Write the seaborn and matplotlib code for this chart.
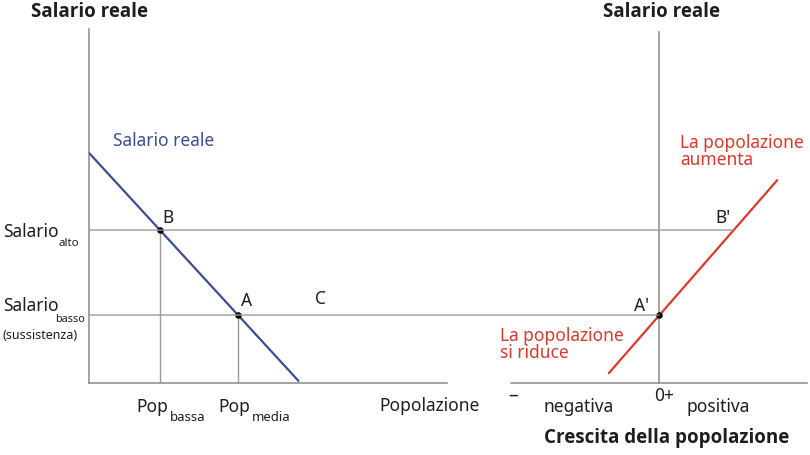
import matplotlib
matplotlib.use("Agg")
import matplotlib.pyplot as plt
import seaborn as sns
from matplotlib.patches import ConnectionPatch

# curve values (wage 0-10 on both panels)
pop_line = [0.0, 5.85]          # population, left panel
wage_line = [6.5, 0.06]         # real wage along the blue curve
growth_line = [-1.40, 3.30]     # population growth, right panel
wage_growth = [0.28, 5.73]      # real wage along the red curve

wage_high = 4.32                # Salario alto
wage_low = 1.92                 # Salario basso (sussistenza)
pop_low = 1.98                  # Pop bassa -> point B
pop_mid = 4.16                  # Pop media -> point A
growth_b = 2.07                 # growth at B'
growth_a = 0.0                  # growth at A'

BLUE = "#3a4d97"
RED = "#e0382b"
AXIS = "#8a8a8a"
GUIDE = "#9a9a9a"
INK = "#1e1e1e"

sns.set_style("white")
plt.rcParams["font.family"] = ["Noto Sans", "DejaVu Sans"]

fig = plt.figure(figsize=(8.1, 4.56), dpi=100)
ax1 = fig.add_axes([0.1099, 0.1579, 0.442, 0.7763])
ax2 = fig.add_axes([0.6309, 0.1579, 0.3654, 0.7763], sharey=ax1)

for ax in (ax1, ax2):
    for s in ("top", "right"):
        ax.spines[s].set_visible(False)
    for s in ("left", "bottom"):
        ax.spines[s].set_color(AXIS)
        ax.spines[s].set_linewidth(1.1)
    ax.set_xticks([])
    ax.set_yticks([])
    ax.patch.set_alpha(0)

ax1.set_xlim(0, 10)
ax1.set_ylim(0, 10)
ax2.set_xlim(-4.13, 4.13)
ax2.spines["left"].set_position(("data", 0))
ax2.spines["left"].set_bounds(0, 9.92)

# guide lines (drawn under the curves)
ax1.plot([pop_low, pop_low], [0, wage_high], color=GUIDE, lw=1.0, zorder=1)
ax1.plot([pop_mid, pop_mid], [0, wage_low], color=GUIDE, lw=1.0, zorder=1)
for w, g in ((wage_high, growth_b), (wage_low, growth_a)):
    con = ConnectionPatch(xyA=(0, w), coordsA=ax1.transData,
                          xyB=(g, w), coordsB=ax2.transData,
                          color=GUIDE, lw=1.0, zorder=1)
    fig.add_artist(con)

# curves
sns.lineplot(x=pop_line, y=wage_line, ax=ax1, color=BLUE, lw=1.6, zorder=3)
sns.lineplot(x=growth_line, y=wage_growth, ax=ax2, color=RED, lw=1.6, zorder=3)
sns.scatterplot(x=[pop_low, pop_mid], y=[wage_high, wage_low], ax=ax1,
                color="black", s=22, zorder=4, linewidth=0)
sns.scatterplot(x=[growth_a], y=[wage_low], ax=ax2,
                color="black", s=22, zorder=4, linewidth=0)

kw = dict(clip_on=False, color=INK)
fs = 12.5
bold = dict(family=["Open Sans", "DejaVu Sans"], fontweight="bold",
            fontstretch="normal", fontsize=13.5)

# left panel texts
ax1.text(0, 10.5, "Salario reale", ha="center", va="center", **bold, **kw)
ax1.text(0.67, 6.86, "Salario reale", ha="left", va="center", fontsize=fs,
         color=BLUE, clip_on=False)
ax1.text(-0.84, 4.29, "Salario", ha="right", va="center", fontsize=fs, **kw)
ax1.text(-0.85, 3.98, "alto", ha="left", va="center", fontsize=8.3, **kw)
ax1.text(-0.84, 2.20, "Salario", ha="right", va="center", fontsize=fs, **kw)
ax1.text(-0.11, 1.81, "basso", ha="right", va="center", fontsize=7.8, **kw)
ax1.text(-0.31, 1.38, "(sussistenza)", ha="right", va="center", fontsize=9, **kw)
ax1.text(2.21, 4.69, "B", ha="center", va="center", fontsize=fs, **kw)
ax1.text(4.41, 2.34, "A", ha="center", va="center", fontsize=fs, **kw)
ax1.text(6.45, 2.40, "C", ha="center", va="center", fontsize=fs, **kw)
ax1.text(2.21, -0.65, "Pop", ha="right", va="center", fontsize=fs, **kw)
ax1.text(2.26, -0.96, "bassa", ha="left", va="center", fontsize=9.5, **kw)
ax1.text(4.50, -0.65, "Pop", ha="right", va="center", fontsize=fs, **kw)
ax1.text(4.55, -0.96, "media", ha="left", va="center", fontsize=9.5, **kw)
ax1.text(10.92, -0.62, "Popolazione", ha="right", va="center", fontsize=fs, **kw)

# right panel texts
ax2.text(0.07, 10.5, "Salario reale", ha="center", va="center", **bold, **kw)
ax2.text(0.59, 6.57, "La popolazione\naumenta", ha="left", va="center",
         fontsize=fs, color=RED, linespacing=0.95, clip_on=False)
ax2.text(-4.44, 1.12, "La popolazione\nsi riduce", ha="left", va="center",
         fontsize=fs, color=RED, linespacing=0.95, clip_on=False)
ax2.text(1.79, 4.69, "B'", ha="center", va="center", fontsize=fs, **kw)
ax2.text(-0.50, 2.20, "A'", ha="center", va="center", fontsize=fs, **kw)
ax2.text(-4.08, -0.34, "–", ha="center", va="center", fontsize=14, **kw)
ax2.text(-2.23, -0.65, "negativa", ha="center", va="center", fontsize=fs, **kw)
ax2.text(0.14, -0.34, "0+", ha="center", va="center", fontsize=fs, **kw)
ax2.text(1.66, -0.65, "positiva", ha="center", va="center", fontsize=fs, **kw)
ax2.text(0.21, -1.53, "Crescita della popolazione", ha="center", va="center",
         **bold, **kw)

fig.savefig("out.png", dpi=100)
